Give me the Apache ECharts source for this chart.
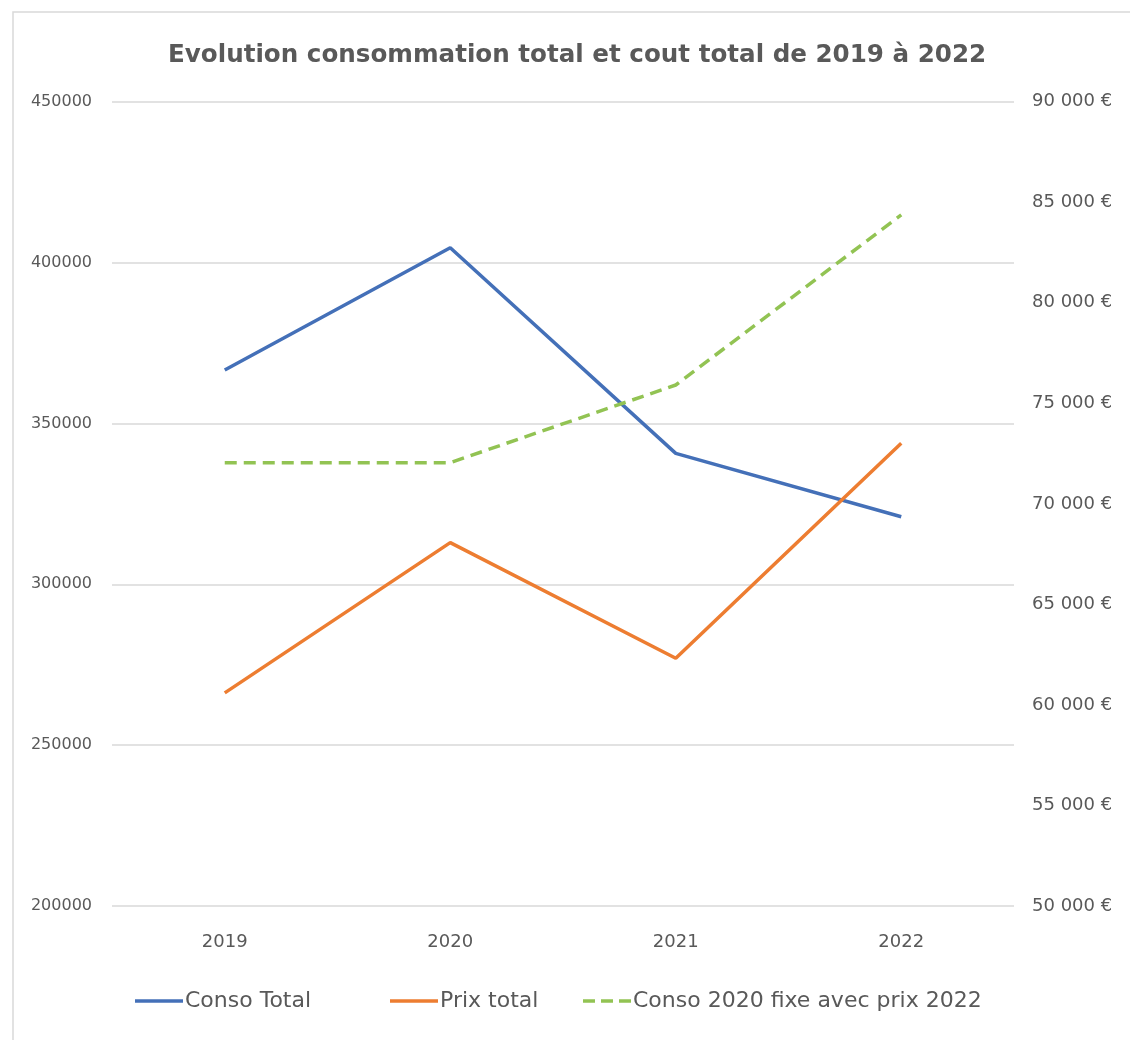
<!DOCTYPE html>
<html>
<head>
<meta charset="utf-8">
<script src="https://cdn.jsdelivr.net/npm/echarts@6/dist/echarts.min.js"></script>
<style>
  html, body { margin: 0; padding: 0; background: #ffffff; }
  #chart { width: 1130px; height: 1040px; }
</style>
</head>
<body>
<div id="chart"></div>
<script>
const categories = ['2019', '2020', '2021', '2022'];
const consoTotal = [366600, 404600, 340700, 321000];
const prixTotal = [60600, 68070, 62320, 73010];
const consoFixe = [72050, 72050, 75910, 84370];
const seriesNames = ['Conso Total', 'Prix total', 'Conso 2020 fixe avec prix 2022'];
const titleText = 'Evolution consommation total et cout total de 2019 à 2022';

const FONT = 'DejaVu Sans';
const GREY = '#595959';
const COLORS = ['#4470B8', '#ED7D31', '#92C353'];

function euro(v) {
  const s = String(Math.round(v));
  return s.replace(/\B(?=(\d{3})+(?!\d))/g, ' ') + ' €';
}

const SOLID_ICON = 'path://M0,0h48v3.5h-48z';
const DASH_ICON = 'path://M0,0h12v3.5h-12z M18,0h12v3.5h-12z M36,0h12v3.5h-12z';

const chart = echarts.init(document.getElementById('chart'));
const legendBase = {
  orient: 'horizontal',
  top: 985,
  itemWidth: 48,
  itemHeight: 3.5,
  itemGap: 10,
  textStyle: { fontFamily: FONT, fontSize: 22, color: GREY, padding: [0, 0, 0, -3] }
};
chart.setOption({
  backgroundColor: '#ffffff',
  animation: false,
  graphic: [{
    type: 'rect',
    shape: { x: 13, y: 12, width: 1200, height: 1100 },
    style: { fill: 'none', stroke: '#d9d9d9', lineWidth: 1.5 },
    silent: true, z: -1
  }],
  title: {
    text: titleText,
    left: 168,
    top: 38,
    padding: [5, 0, 5, 0],
    textStyle: { fontFamily: FONT, fontSize: 24.6, fontWeight: 'bold', color: GREY }
  },
  legend: [
    Object.assign({}, legendBase, { left: 130, data: [{ name: seriesNames[0], icon: SOLID_ICON }] }),
    Object.assign({}, legendBase, { left: 385, data: [{ name: seriesNames[1], icon: SOLID_ICON }] }),
    Object.assign({}, legendBase, { left: 578, data: [{ name: seriesNames[2], icon: DASH_ICON }] })
  ],
  grid: { left: 112, right: 116, top: 101.7, bottom: 134, containLabel: false },
  xAxis: {
    type: 'category',
    data: categories,
    boundaryGap: true,
    axisLine: { show: false },
    axisTick: { show: false },
    axisLabel: { fontFamily: FONT, fontSize: 18, color: GREY, margin: 27 }
  },
  yAxis: [{
    type: 'value',
    min: 200000, max: 450000, interval: 50000,
    axisLine: { show: false },
    axisTick: { show: false },
    splitLine: { lineStyle: { color: '#d9d9d9', width: 1.5 } },
    axisLabel: { fontFamily: FONT, fontSize: 16, color: GREY, margin: 20, formatter: (v) => String(v) }
  }, {
    type: 'value',
    min: 50000, max: 90000, interval: 5000,
    axisLine: { show: false },
    axisTick: { show: false },
    splitLine: { show: false },
    axisLabel: { fontFamily: FONT, fontSize: 18, color: GREY, margin: 18, formatter: euro }
  }],
  series: [{
    name: seriesNames[0], type: 'line', yAxisIndex: 0, data: consoTotal,
    symbol: 'none', lineStyle: { color: COLORS[0], width: 3.5 }, itemStyle: { color: COLORS[0] }
  }, {
    name: seriesNames[1], type: 'line', yAxisIndex: 1, data: prixTotal,
    symbol: 'none', lineStyle: { color: COLORS[1], width: 3.5 }, itemStyle: { color: COLORS[1] }
  }, {
    name: seriesNames[2], type: 'line', yAxisIndex: 1, data: consoFixe,
    symbol: 'none', lineStyle: { color: COLORS[2], width: 3.5, type: [12, 7] }, itemStyle: { color: COLORS[2] }
  }]
});
</script>
</body>
</html>
